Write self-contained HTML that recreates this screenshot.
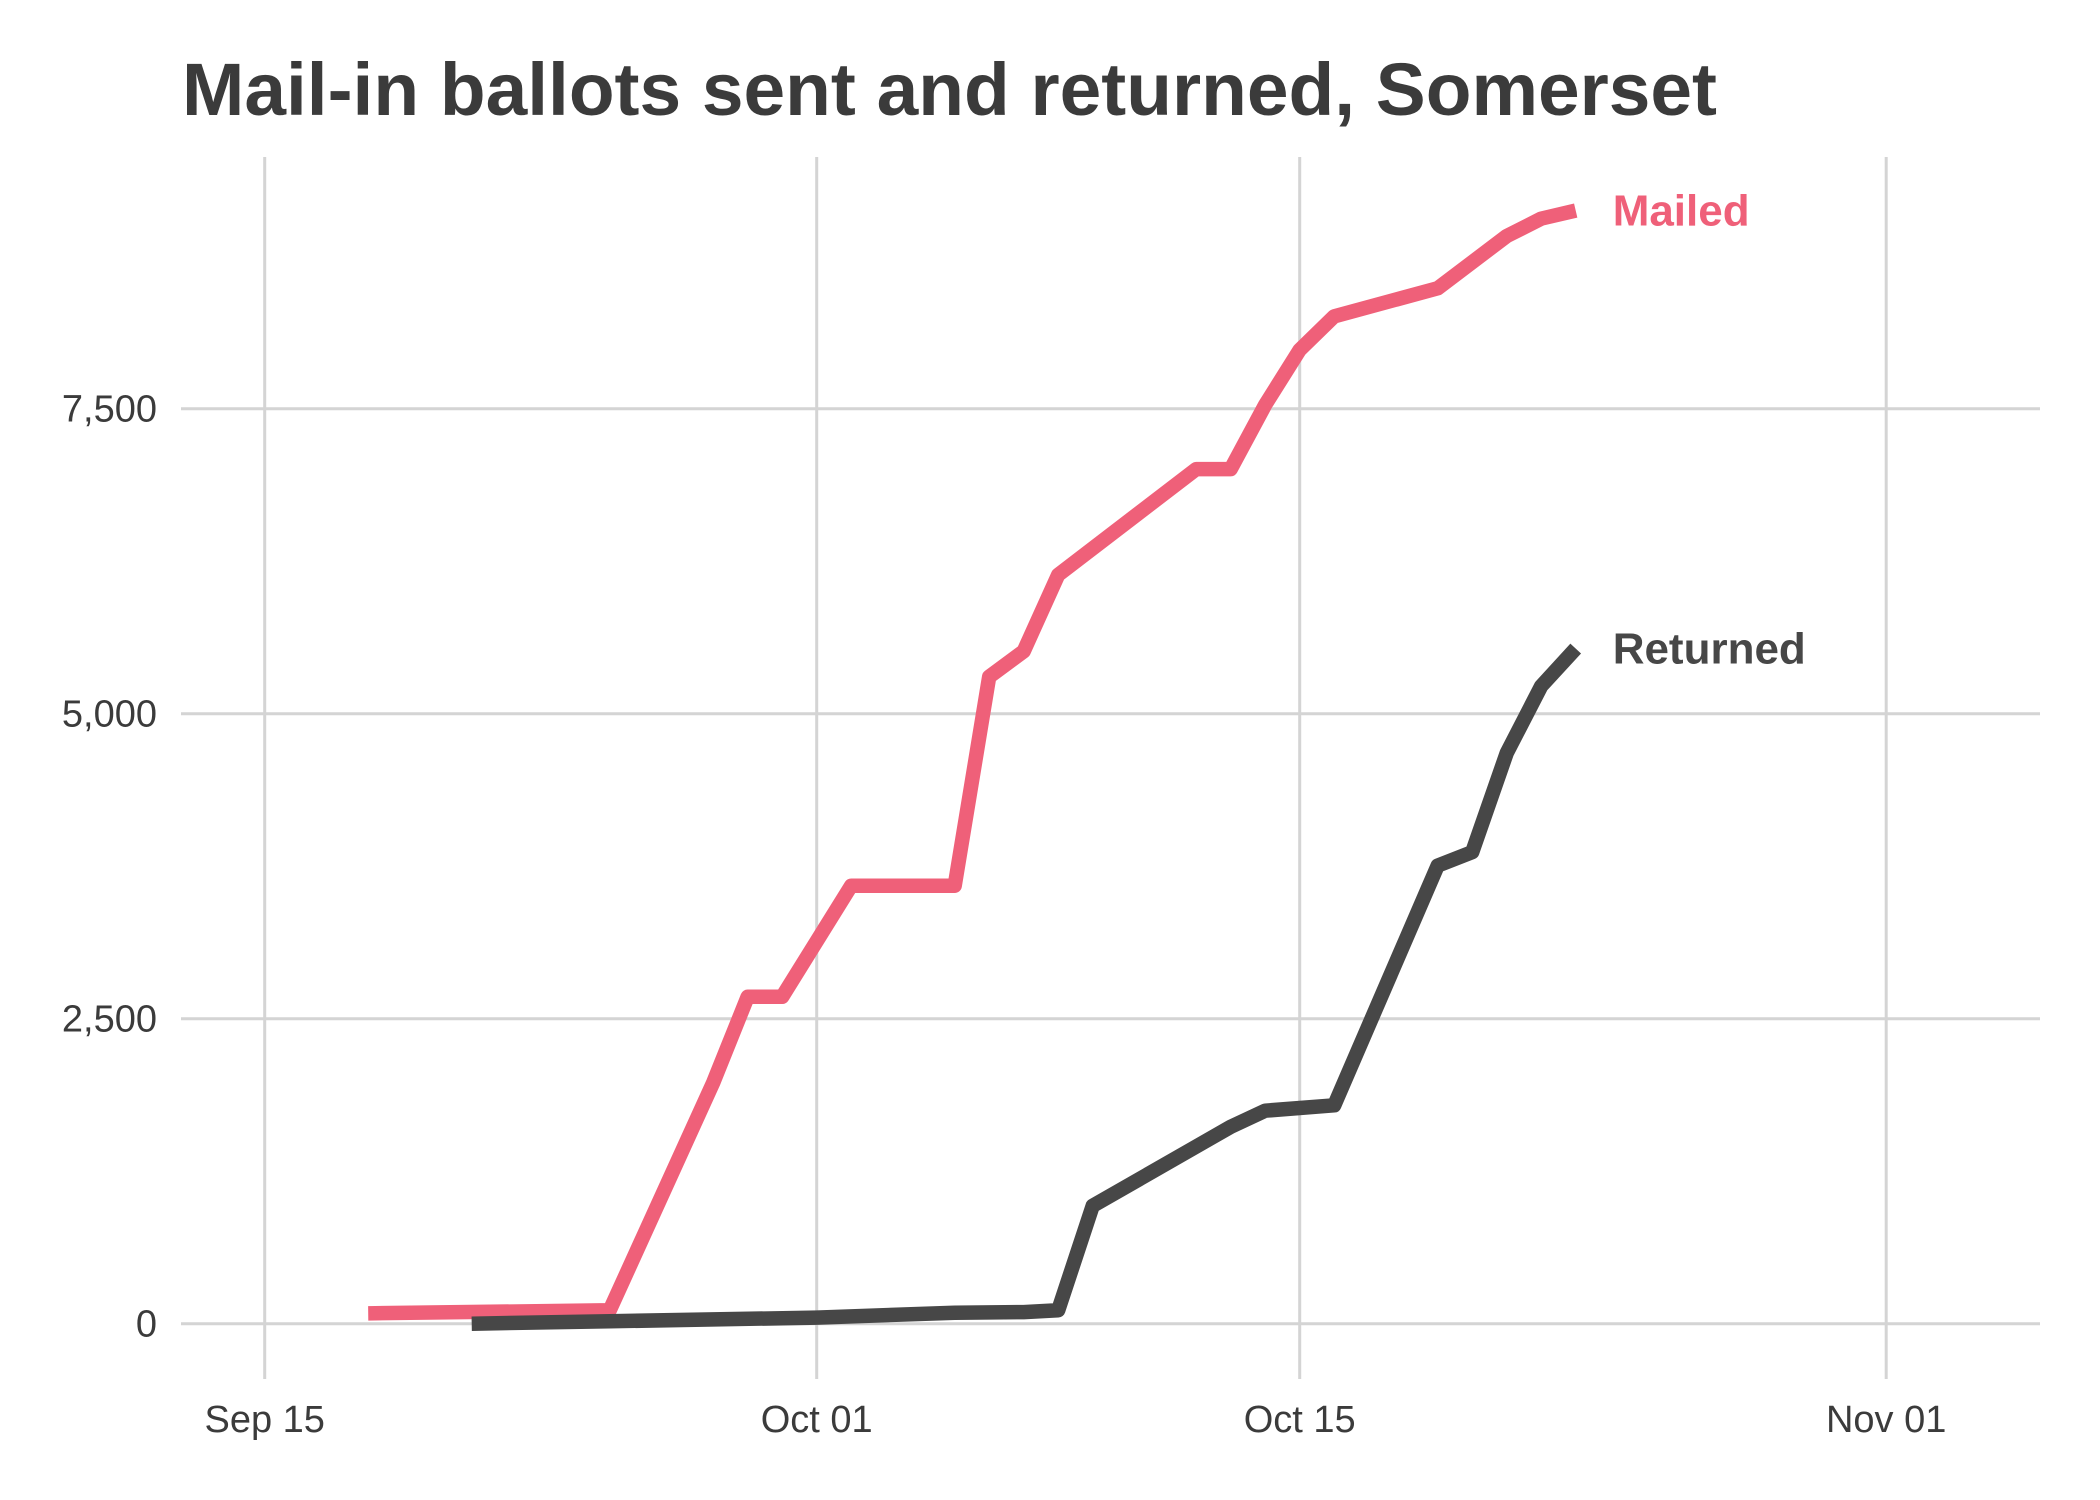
<!DOCTYPE html>
<html><head><meta charset="utf-8"><style>
html,body{margin:0;padding:0;background:#fff;}
svg{display:block;font-family:"Liberation Sans",Arial,sans-serif;}
</style></head><body>
<svg id="chart" width="2100" height="1500" viewBox="0 0 2100 1500">
<text x="182" y="115" font-size="74" font-weight="bold" fill="#3b3b3b" textLength="1535" lengthAdjust="spacingAndGlyphs">Mail-in ballots sent and returned, Somerset</text>
<g id="grid"></g><g id="lines"></g><g id="labels"></g>
</svg>
<script>
// days since Sep 15
const mailedDays = [3,10,13,14,15,17,20,21,22,23,27,28,29,30,31,34,36,37,38];
const mailedVals = [85,110,1976,2680,2680,3590,3590,5303,5512,6138,7005,7005,7532,7982,8257,8487,8915,9058,9124];
const returnedDays = [6,10,16,20,22,23,24,28,29,31,34,35,36,37,38];
const returnedVals = [0,20,50,90,95,110,966,1614,1746,1790,3755,3865,4677,5226,5534];
const yTicks = [0,2500,5000,7500];
const yTickLabels = ["0","2,500","5,000","7,500"];
const xTicks = [0,16,30,47];
const xTickLabels = ["Sep 15","Oct 01","Oct 15","Nov 01"];

const NS="http://www.w3.org/2000/svg";
const X=d=>264.7+d*34.5;
const Y=v=>1323.7-v*(915/7500);
function mk(tag,attrs,parent){const e=document.createElementNS(NS,tag);for(const k in attrs)e.setAttribute(k,attrs[k]);parent.appendChild(e);return e;}
const grid=document.getElementById('grid'),lines=document.getElementById('lines'),labels=document.getElementById('labels');
yTicks.forEach((v,i)=>{
  const l=mk('line',{x1:181,x2:2040,y1:Y(v),y2:Y(v),stroke:'#d4d4d4','stroke-width':3},grid);
  
  
  const t=mk('text',{x:157,y:Y(v)+13,'text-anchor':'end','font-size':38,fill:'#3b3b3b'},labels);
  t.textContent=yTickLabels[i];
  
  
});
xTicks.forEach((d,i)=>{
  const l=mk('line',{x1:X(d),x2:X(d),y1:157,y2:1379,stroke:'#d4d4d4','stroke-width':3},grid);
  
  
  const t=mk('text',{x:X(d),y:1432,'text-anchor':'middle','font-size':38,fill:'#3b3b3b'},labels);
  t.textContent=xTickLabels[i];
  
  
});
function series(days,vals,color,name,label){
  const p=mk('polyline',{points:days.map((d,i)=>X(d)+','+Y(vals[i])).join(' '),fill:'none',stroke:color,'stroke-width':14.5,'stroke-linejoin':'round'},lines);
  
  
  const n=days.length-1;
  const t=mk('text',{x:X(days[n])+37,y:Y(vals[n])+15,'font-size':44,'font-weight':'bold',fill:color},labels);
  t.textContent=label;
  
  
}
series(mailedDays,mailedVals,'#ef6079','mailed','Mailed');
series(returnedDays,returnedVals,'#474747','returned','Returned');
</script>
</body></html>
